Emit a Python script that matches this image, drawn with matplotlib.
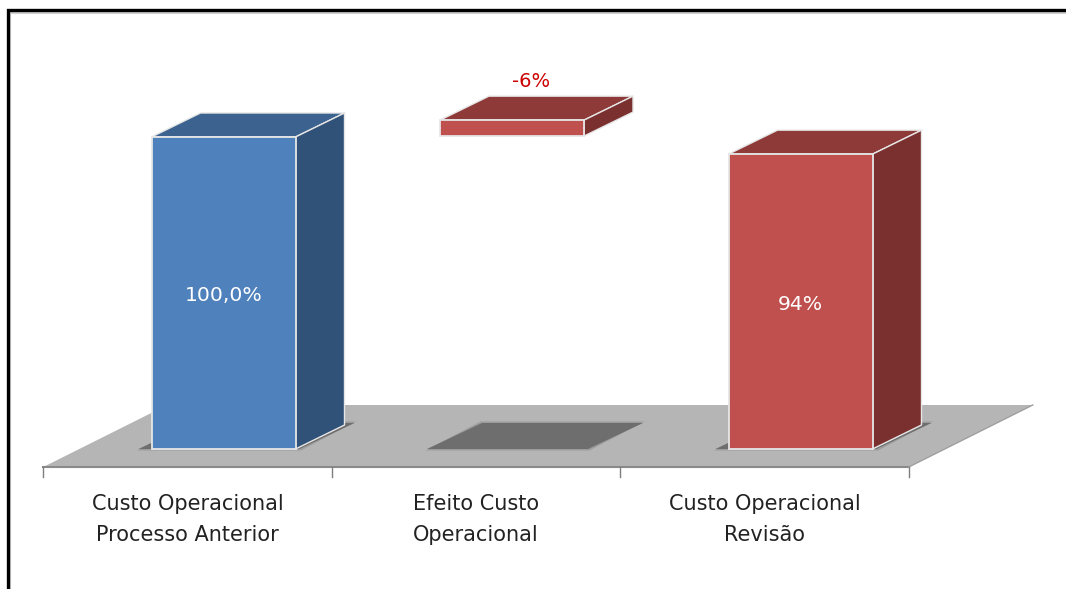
import matplotlib
matplotlib.use("Agg")
import matplotlib.pyplot as plt
from matplotlib.patches import Polygon

categories = ["Custo Operacional\nProcesso Anterior", "Efeito Custo\nOperacional", "Custo Operacional\nRevisão"]
bar_bottoms = [0, 100.3, 0]
bar_heights = [100, 5.1, 94.5]
bar_labels = ["100,0%", "-6%", "94%"]

front_colors = ["#4f81bd", "#c0504d", "#c0504d"]
top_colors = ["#3c6290", "#8e3a38", "#8e3a38"]
side_colors = ["#315278", "#7a302e", "#7a302e"]
label_colors = ["white", "#cc0000", "white"]

W, H = 1066, 589
PX_X = 288.5  # pixels for one category
PX_Y = 3.12  # pixels for one percent
X0, Y0 = 187.5, 449  # first category centre and zero line, in pixels

bar_w = 144 / PX_X
dx = 49 / PX_X  # depth of the bars
dy = 24 / PX_Y

fig = plt.figure(figsize=(W / 100, H / 100), dpi=100)
ax = fig.add_axes([0, 0, 1, 1])
ax.set_xlim(-X0 / PX_X, (W - X0) / PX_X)
ax.set_ylim((Y0 - H) / PX_Y, Y0 / PX_Y)
ax.axis("off")

# floor
fl = -0.5
fr = 2.5
fy = -18 / PX_Y
fdx = 124 / PX_X
fdy = 62 / PX_Y
ax.add_patch(Polygon([(fl, fy), (fr, fy), (fr + fdx, fy + fdy), (fl + fdx, fy + fdy)],
                     fc="#b5b5b5", ec="none", zorder=1))
ax.plot([fl, fr], [fy, fy], c="#8a8a8a", lw=1.5, zorder=2)
ax.plot([fr, fr + fdx], [fy, fy + fdy], c="#a0a0a0", lw=1, zorder=2)
for i in range(4):
    ax.plot([fl + i, fl + i], [fy, fy - 10 / PX_Y], c="#7f7f7f", lw=1, zorder=2)

# bars
for i in range(len(categories)):
    left = i + 36 / PX_X - bar_w / 2
    right = left + bar_w
    b = bar_bottoms[i]
    t = b + bar_heights[i]

    # shadow on the floor, soft edge drawn with a wider layer
    sl = left - 13 / PX_X
    sr = right + 4 / PX_X
    sb = 0
    st = 26 / PX_Y
    sd = 55 / PX_X
    for grow, alpha in [(1.5, 0.35), (0, 1)]:
        g = grow / PX_X
        ax.add_patch(Polygon([(sl - g, sb - grow / PX_Y), (sr + g, sb - grow / PX_Y),
                              (sr + sd + g, st + grow / PX_Y), (sl + sd - g, st + grow / PX_Y)],
                             fc="#6e6e6e", ec="none", alpha=alpha, zorder=3))

    edge = "#e6e6e6"
    ax.add_patch(Polygon([(left, t), (right, t), (right + dx, t + dy), (left + dx, t + dy)],
                         fc=top_colors[i], ec=edge, lw=1, joinstyle="round", zorder=4))
    ax.add_patch(Polygon([(right, b), (right + dx, b + dy), (right + dx, t + dy), (right, t)],
                         fc=side_colors[i], ec=edge, lw=1, joinstyle="round", zorder=4))
    ax.bar(left, t - b, bar_w, bottom=b, align="edge", color=front_colors[i],
           edgecolor=edge, linewidth=1.3, zorder=5)

    if i == 1:
        ax.text(i + 55 / PX_X, t + dy + 5 / PX_Y, bar_labels[i], color=label_colors[i], fontsize=14,
                ha="center", va="bottom", zorder=6)
    else:
        ax.text((left + right) / 2, b + (t - b) / 2 - 0.9, bar_labels[i], color=label_colors[i],
                fontsize=14.7, ha="center", va="center", zorder=6)

    ax.text(i, -(519 - Y0) / PX_Y - 0.2, categories[i], color="#222222", fontsize=15, ha="center",
            va="center", linespacing=1.7, zorder=6)

# frame of the pasted picture
ax.plot([7.5 / W, 7.5 / W, 1], [0, 1 - 10 / H, 1 - 10 / H], transform=ax.transAxes, c="black", lw=2.4,
        solid_joinstyle="miter", zorder=8)
ax.plot([10 / W, 10 / W, 1], [0, 1 - 12.5 / H, 1 - 12.5 / H], transform=ax.transAxes, c="#cfcfcf", lw=1.5,
        solid_joinstyle="miter", zorder=7)

fig.savefig("out.png", dpi=100)
